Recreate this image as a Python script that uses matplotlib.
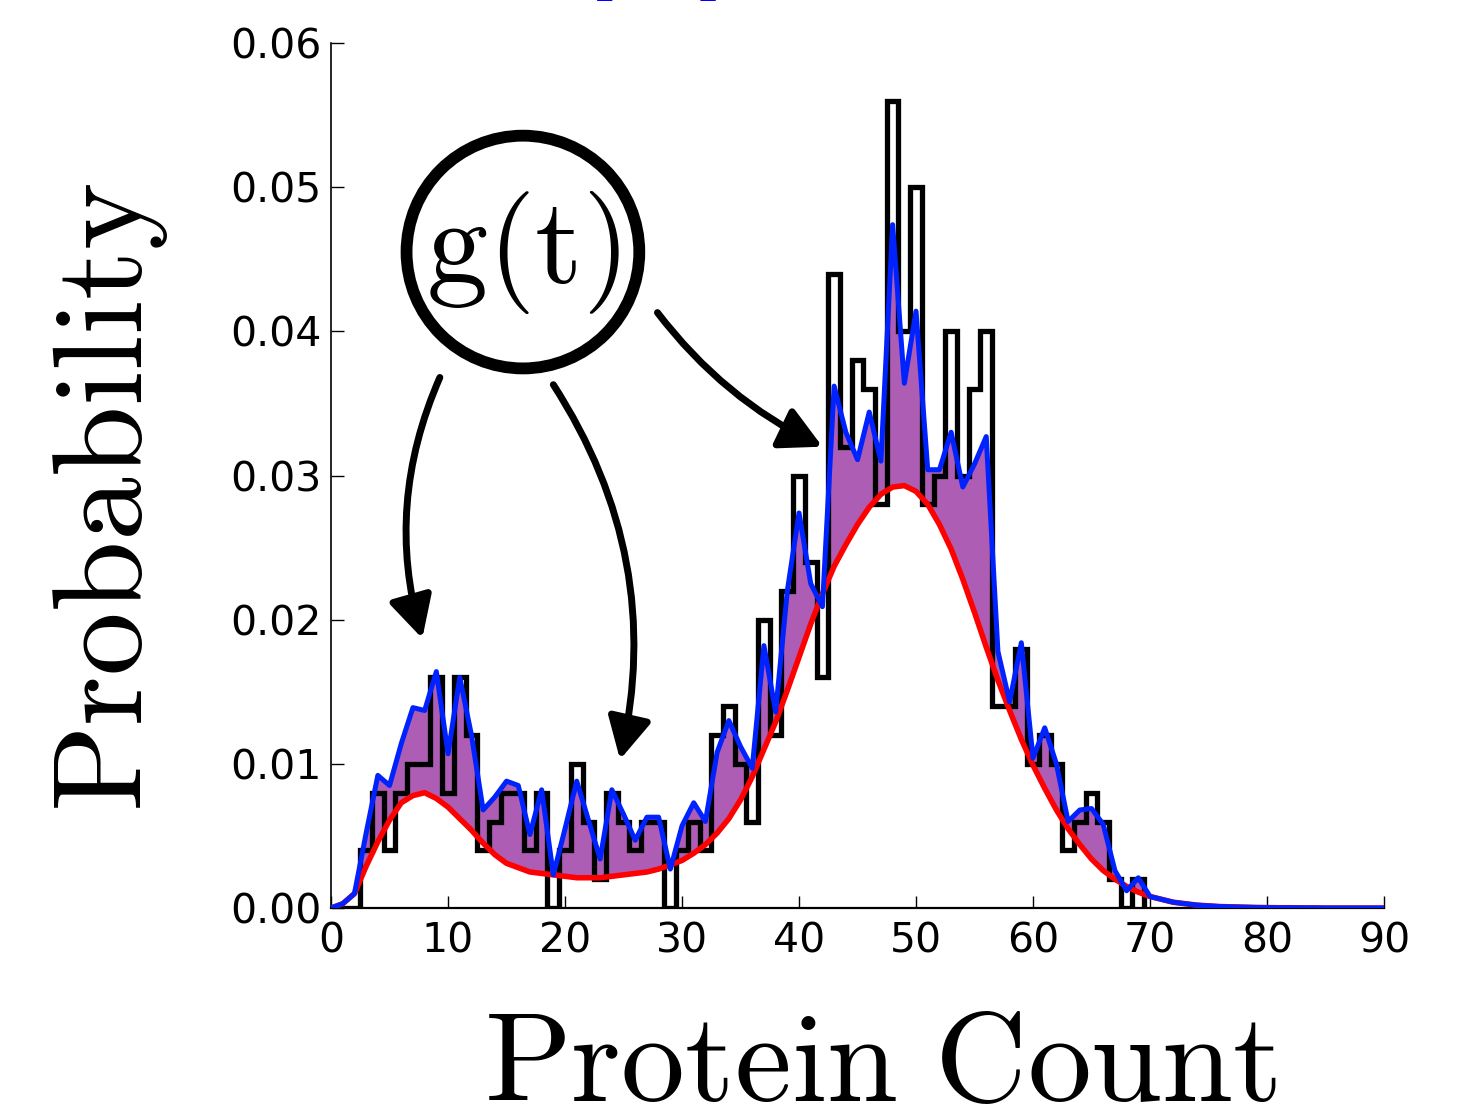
import numpy as np
import matplotlib
matplotlib.use('Agg')
import matplotlib.pyplot as plt

plt.rcParams['mathtext.fontset'] = 'cm'
plt.rcParams['font.family'] = 'DejaVu Sans'

# Histogram of protein counts (bins centred on integers 0..69)
hist_prob = [0.000, 0.000, 0.000, 0.004, 0.008, 0.004, 0.008, 0.010, 0.010, 0.016,
             0.008, 0.016, 0.012, 0.004, 0.006, 0.008, 0.008, 0.004, 0.008, 0.000,
             0.004, 0.010, 0.006, 0.002, 0.008, 0.006, 0.004, 0.006, 0.006, 0.000,
             0.004, 0.006, 0.004, 0.012, 0.014, 0.010, 0.006, 0.020, 0.012, 0.022,
             0.030, 0.024, 0.016, 0.044, 0.032, 0.038, 0.036, 0.028, 0.056, 0.040,
             0.050, 0.028, 0.030, 0.040, 0.030, 0.036, 0.040, 0.014, 0.014, 0.018,
             0.010, 0.012, 0.010, 0.004, 0.006, 0.008, 0.006, 0.002, 0.000, 0.002]

# protein counts 0..90
counts = list(range(91))

# estimated distribution (blue)
blue_prob = [0.0000, 0.0003, 0.0010, 0.0052, 0.0092, 0.0085, 0.0114, 0.0139, 0.0137, 0.0164,
             0.0107, 0.0160, 0.0120, 0.0068, 0.0077, 0.0088, 0.0085, 0.0051, 0.0082, 0.0023,
             0.0055, 0.0088, 0.0061, 0.0034, 0.0082, 0.0065, 0.0047, 0.0063, 0.0063, 0.0027,
             0.0057, 0.0073, 0.0060, 0.0108, 0.0130, 0.0112, 0.0097, 0.0182, 0.0136, 0.0220,
             0.0274, 0.0225, 0.0209, 0.0362, 0.0330, 0.0311, 0.0344, 0.0310, 0.0474, 0.0364,
             0.0414, 0.0304, 0.0304, 0.0330, 0.0292, 0.0308, 0.0327, 0.0178, 0.0143, 0.0184,
             0.0104, 0.0125, 0.0100, 0.0060, 0.0068, 0.0069, 0.0058, 0.0026, 0.0012, 0.0021,
             0.0008, 0.0006, 0.0004, 0.0003, 0.0002, 0.00015, 0.0001, 0.00008, 0.00006, 0.00004,
             0.00003, 0.00002, 0.00002, 0.00001, 0.00001, 0.0, 0.0, 0.0, 0.0, 0.0, 0.0]

# model distribution (red)
red_prob = [0.0000, 0.0003, 0.0010, 0.0029, 0.0046, 0.0061, 0.0073, 0.0078, 0.0080, 0.0076,
            0.0070, 0.0062, 0.0054, 0.0045, 0.0037, 0.0031, 0.0028, 0.0025, 0.0024, 0.0023,
            0.0022, 0.0021, 0.0021, 0.0021, 0.0022, 0.0023, 0.0024, 0.0025, 0.0027, 0.0030,
            0.0033, 0.0038, 0.0044, 0.0052, 0.0062, 0.0075, 0.0091, 0.0110, 0.0129, 0.0151,
            0.0174, 0.0197, 0.0218, 0.0237, 0.0252, 0.0266, 0.0278, 0.0287, 0.0292, 0.0293,
            0.0289, 0.0280, 0.0266, 0.0249, 0.0228, 0.0205, 0.0181, 0.0158, 0.0137, 0.0117,
            0.0099, 0.0083, 0.0068, 0.0055, 0.0044, 0.0034, 0.0026, 0.0020, 0.0015, 0.0011,
            0.0008, 0.0006, 0.0004, 0.0003, 0.0002, 0.00015, 0.0001, 0.00008, 0.00006, 0.00004,
            0.00003, 0.00002, 0.00002, 0.00001, 0.00001, 0.0, 0.0, 0.0, 0.0, 0.0, 0.0]

x_ticks = [0, 10, 20, 30, 40, 50, 60, 70, 80, 90]
y_ticks = [0.00, 0.01, 0.02, 0.03, 0.04, 0.05, 0.06]

fig = plt.figure(figsize=(14.59, 11.11), dpi=100)
ax = fig.add_axes([0.2269, 0.1827, 0.7217, 0.7786])

edges = np.arange(len(hist_prob) + 1) - 0.5
ax.fill_between(counts, red_prob, blue_prob, color='#ae5db4', lw=0, zorder=1)
ax.stairs(hist_prob, edges, color='k', lw=3.8, zorder=2)
ax.plot(counts, red_prob, color='#ff0000', lw=4, zorder=3)
ax.plot(counts, blue_prob, color='#0022ff', lw=3.6, zorder=4)

ax.set_xlim(0, 90)
ax.set_ylim(0, 0.06)
ax.set_xticks(x_ticks)
ax.set_yticks(y_ticks)
ax.set_yticklabels(['%.2f' % v for v in y_ticks])
ax.tick_params(direction='in', length=9, width=1, labelsize=29.5, pad=7)
ax.tick_params(axis='x', pad=10)
ax.spines['top'].set_visible(False)
ax.spines['right'].set_visible(False)
ax.spines['left'].set_linewidth(1.2)
ax.spines['bottom'].set_linewidth(1.6)

ax.set_xlabel(r'$\mathrm{Protein\ Count}$', fontsize=92)
ax.xaxis.set_label_coords(0.522, -0.110)
ax.set_ylabel(r'$\mathrm{Probability}$', fontsize=92)
ax.yaxis.set_label_coords(-0.153, 0.475)

# g(t) bubble and arrows
ax.text(16.4, 0.0455, r'$\mathrm{g(t)}$', fontsize=88, ha='center', va='center',
        bbox=dict(boxstyle='circle,pad=0.16', fc='white', ec='k', lw=8.5), zorder=6)
arrow_kw = dict(arrowstyle='-|>,head_length=0.42,head_width=0.22', color='k',
                lw=5, mutation_scale=60, shrinkA=0, shrinkB=0)
ax.annotate('', xy=(7.8, 0.0187), xytext=(9.3, 0.0368),
            arrowprops=dict(connectionstyle='arc3,rad=0.18', **arrow_kw))
ax.annotate('', xy=(24.7, 0.0103), xytext=(19.0, 0.0363),
            arrowprops=dict(connectionstyle='arc3,rad=-0.21', **arrow_kw))
ax.annotate('', xy=(42.0, 0.0320), xytext=(27.9, 0.0413),
            arrowprops=dict(connectionstyle='arc3,rad=0.12', **arrow_kw))

# panel title, cut off at the top edge
fig.text(650 / 1459, 1.0245, r'$[\mathrm{A}]$', fontsize=80, color='#0000ff',
         ha='center', va='baseline')

fig.savefig('out.png', dpi=100)
